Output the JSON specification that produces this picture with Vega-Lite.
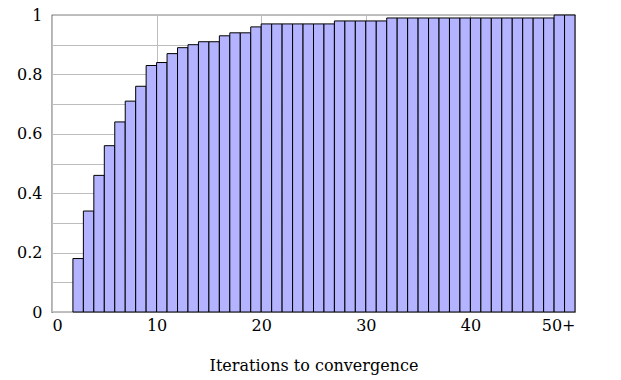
{
  "$schema": "https://vega.github.io/schema/vega-lite/v6.json",
  "autosize": "none",
  "width": 523,
  "height": 297,
  "padding": {"left": 52, "top": 15, "right": 46, "bottom": 68},
  "view": {"stroke": "black", "strokeWidth": 1.2},
  "config": {
    "font": "DejaVu Serif",
    "axis": {"labelFont": "DejaVu Serif", "titleFont": "DejaVu Serif"}
  },
  "data": {"values": [
    {"it": 2, "end": 3, "frac": 0.18}, {"it": 3, "end": 4, "frac": 0.34}, {"it": 4, "end": 5, "frac": 0.46},
    {"it": 5, "end": 6, "frac": 0.56}, {"it": 6, "end": 7, "frac": 0.64}, {"it": 7, "end": 8, "frac": 0.71},
    {"it": 8, "end": 9, "frac": 0.76}, {"it": 9, "end": 10, "frac": 0.83}, {"it": 10, "end": 11, "frac": 0.84},
    {"it": 11, "end": 12, "frac": 0.87}, {"it": 12, "end": 13, "frac": 0.89}, {"it": 13, "end": 14, "frac": 0.90},
    {"it": 14, "end": 15, "frac": 0.91}, {"it": 15, "end": 16, "frac": 0.91}, {"it": 16, "end": 17, "frac": 0.93},
    {"it": 17, "end": 18, "frac": 0.94}, {"it": 18, "end": 19, "frac": 0.94}, {"it": 19, "end": 20, "frac": 0.96},
    {"it": 20, "end": 21, "frac": 0.97}, {"it": 21, "end": 22, "frac": 0.97}, {"it": 22, "end": 23, "frac": 0.97},
    {"it": 23, "end": 24, "frac": 0.97}, {"it": 24, "end": 25, "frac": 0.97}, {"it": 25, "end": 26, "frac": 0.97},
    {"it": 26, "end": 27, "frac": 0.97}, {"it": 27, "end": 28, "frac": 0.98}, {"it": 28, "end": 29, "frac": 0.98},
    {"it": 29, "end": 30, "frac": 0.98}, {"it": 30, "end": 31, "frac": 0.98}, {"it": 31, "end": 32, "frac": 0.98},
    {"it": 32, "end": 33, "frac": 0.99}, {"it": 33, "end": 34, "frac": 0.99}, {"it": 34, "end": 35, "frac": 0.99},
    {"it": 35, "end": 36, "frac": 0.99}, {"it": 36, "end": 37, "frac": 0.99}, {"it": 37, "end": 38, "frac": 0.99},
    {"it": 38, "end": 39, "frac": 0.99}, {"it": 39, "end": 40, "frac": 0.99}, {"it": 40, "end": 41, "frac": 0.99},
    {"it": 41, "end": 42, "frac": 0.99}, {"it": 42, "end": 43, "frac": 0.99}, {"it": 43, "end": 44, "frac": 0.99},
    {"it": 44, "end": 45, "frac": 0.99}, {"it": 45, "end": 46, "frac": 0.99}, {"it": 46, "end": 47, "frac": 0.99},
    {"it": 47, "end": 48, "frac": 0.99}, {"it": 48, "end": 49, "frac": 1.0}, {"it": 49, "end": 50, "frac": 1.0}
  ]},
  "mark": {"type": "bar", "fill": "#b3b3ff", "stroke": "black", "strokeWidth": 1},
  "encoding": {
    "x": {
      "field": "it", "type": "quantitative",
      "scale": {"domain": [0, 50], "nice": false, "zero": false},
      "axis": {
        "values": [0, 10, 20, 30, 40, 50],
        "labelExpr": "datum.value == 50 ? '50+' : datum.label",
        "title": "Iterations to convergence",
        "titleFontSize": 16, "titleFontWeight": "normal", "titleColor": "black",
        "titlePadding": 24,
        "labelFontSize": 16, "labelColor": "black", "labelPadding": 5,
        "domain": false, "ticks": false,
        "grid": true, "gridColor": "#bdbdbd", "gridWidth": 1
      }
    },
    "x2": {"field": "end"},
    "y": {
      "field": "frac", "type": "quantitative",
      "scale": {"domain": [0, 1], "nice": false},
      "axis": {
        "values": [0, 0.1, 0.2, 0.3, 0.4, 0.5, 0.6, 0.7, 0.8, 0.9, 1],
        "labelExpr": "(round(datum.value * 10) % 2 == 0) ? format(datum.value, '.1~f') : ''",
        "title": null,
        "labelFontSize": 16, "labelColor": "black", "labelPadding": 10,
        "domain": false, "ticks": false,
        "grid": true, "gridColor": "#bdbdbd", "gridWidth": 1
      }
    },
    "y2": {"datum": 0}
  }
}
